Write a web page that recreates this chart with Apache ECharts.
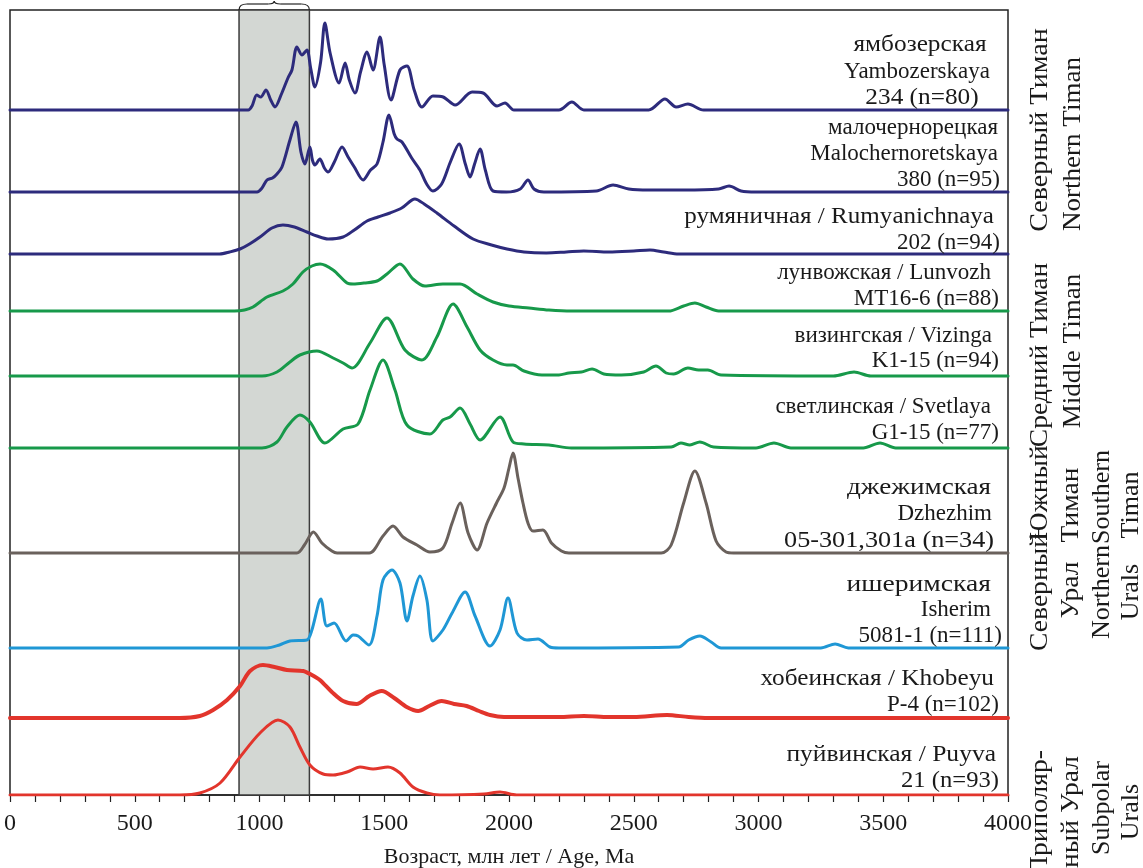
<!DOCTYPE html>
<html><head><meta charset="utf-8">
<script src="https://cdn.jsdelivr.net/npm/echarts/dist/echarts.min.js"></script>
<style>html,body{margin:0;padding:0;background:#fff}#c{width:1143px;height:868px}</style>
</head><body><div id="c"></div>
<script>
// ---------------- DATA ----------------
const ageTicks = [0, 500, 1000, 1500, 2000, 2500, 3000, 3500, 4000];
const axisTitle = 'Возраст, млн лет / Age, Ma';
const bandRange = [918, 1200];

// [age Ma, relative probability height]
const yambozerskaya = [[0,0],[955,0],[970,4],[989,15],[1005,13],[1026,20],[1045,10],[1062,3],[1088,16],[1114,32],[1130,40],[1150,63],[1170,55],[1190,60],[1205,42],[1222,23],[1245,48],[1262,87],[1283,57],[1319,27],[1343,47],[1360,30],[1383,17],[1405,38],[1431,58],[1455,40],[1483,73],[1500,45],[1527,10],[1563,40],[1591,44],[1620,20],[1651,3],[1695,14],[1736,13],[1784,5],[1852,18],[1896,17],[1952,4],[1984,7],[2020,0],[2200,0],[2252,8],[2300,0],[2560,0],[2625,11],[2670,3],[2717,6],[2780,0],[4000,0]];
const malochernoretskaya = [[0,0],[990,0],[1010,4],[1030,12],[1052,14],[1070,18],[1090,25],[1122,52],[1146,70],[1166,40],[1182,28],[1202,45],[1212,32],[1222,27],[1242,33],[1260,24],[1275,20],[1300,30],[1331,45],[1355,35],[1380,25],[1415,12],[1445,22],[1471,28],[1495,50],[1519,77],[1540,58],[1551,53],[1571,50],[1610,34],[1643,22],[1670,8],[1695,1],[1730,8],[1765,30],[1800,48],[1825,28],[1844,15],[1862,28],[1884,43],[1905,22],[1936,1],[1990,0],[2045,3],[2076,12],[2100,3],[2140,0],[2350,1],[2417,7],[2480,3],[2560,2],[2700,2],[2840,3],[2882,6],[2930,1],[2990,0],[4000,0]];
const rumyanichnaya = [[0,0],[840,0],[880,2],[922,5],[960,10],[1002,17],[1050,26],[1094,29],[1140,27],[1190,22],[1230,18],[1275,15],[1335,17],[1380,24],[1431,33],[1475,37],[1523,41],[1570,46],[1623,55],[1660,50],[1711,41],[1780,28],[1856,15],[1930,9],[1992,5],[2060,2],[2150,1],[2230,2],[2300,3],[2400,2],[2500,3],[2565,4],[2620,2],[2680,0],[4000,0]];
const lunvozh = [[0,0],[900,0],[940,1],[974,4],[1030,14],[1094,20],[1134,27],[1174,39],[1210,45],[1243,47],[1295,41],[1351,28],[1375,27],[1420,28],[1471,30],[1511,37],[1563,47],[1615,32],[1663,25],[1735,27],[1804,27],[1872,17],[1936,9],[2000,5],[2080,3],[2160,1],[2250,0],[2640,0],[2700,5],[2745,8],[2790,4],[2840,0],[4000,0]];
const vizinga = [[0,0],[1010,0],[1070,4],[1122,14],[1162,21],[1230,25],[1295,18],[1335,13],[1371,8],[1443,33],[1511,58],[1583,26],[1651,16],[1711,39],[1776,72],[1832,49],[1884,26],[1936,16],[1992,11],[2016,11],[2060,5],[2132,1],[2200,1],[2240,3],[2290,4],[2333,7],[2380,2],[2450,1],[2540,4],[2589,10],[2630,3],[2660,2],[2717,8],[2760,6],[2797,6],[2850,1],[3300,0],[3383,4],[3450,0],[4000,0]];
const svetlaya = [[0,0],[1010,0],[1070,6],[1110,21],[1162,33],[1202,26],[1262,5],[1335,19],[1395,24],[1443,58],[1495,88],[1543,58],[1591,23],[1683,14],[1735,28],[1764,31],[1804,40],[1844,24],[1884,8],[1964,31],[2016,6],[2060,4],[2160,3],[2250,0],[2650,1],[2689,5],[2725,3],[2765,6],[2820,1],[2990,0],[3062,5],[3130,0],[3420,0],[3487,5],[3550,0],[4000,0]];
const dzhezhim = [[0,0],[1150,0],[1180,8],[1216,21],[1250,10],[1290,2],[1311,0],[1440,0],[1495,17],[1535,27],[1575,16],[1631,8],[1683,1],[1735,5],[1772,30],[1804,50],[1836,20],[1872,3],[1912,30],[1950,50],[1980,65],[2000,85],[2016,100],[2036,75],[2056,50],[2076,30],[2096,22],[2136,23],[2170,10],[2210,2],[2240,0],[2610,0],[2650,8],[2700,50],[2745,82],[2790,50],[2830,12],[2870,1],[2900,0],[4000,0]];
const isherim = [[0,0],[1030,0],[1080,3],[1122,7],[1190,8],[1210,18],[1246,49],[1270,22],[1299,25],[1347,7],[1375,13],[1395,12],[1439,3],[1471,32],[1495,68],[1531,78],[1563,65],[1591,27],[1615,52],[1643,72],[1671,48],[1695,7],[1735,18],[1772,35],[1824,56],[1864,32],[1924,2],[1964,18],[1996,50],[2032,15],[2072,8],[2116,9],[2164,1],[2200,0],[2680,1],[2720,8],[2765,12],[2810,6],[2850,0],[3250,0],[3307,4],[3360,0],[4000,0]];
const khobeyu = [[0,0],[680,0],[761,2],[814,8],[870,18],[922,32],[962,47],[1014,53],[1060,51],[1110,48],[1175,47],[1210,43],[1242,38],[1290,26],[1335,17],[1389,14],[1440,22],[1490,27],[1540,20],[1590,11],[1636,7],[1680,12],[1730,17],[1780,14],[1830,12],[1880,7],[1924,3],[1980,1],[2100,1],[2200,1],[2300,2],[2400,1],[2500,1],[2633,3],[2720,1],[2800,0],[4000,0]];
const puyva = [[0,0],[681,0],[761,2],[842,12],[922,38],[1002,62],[1074,75],[1122,68],[1162,48],[1202,30],[1255,21],[1295,20],[1351,23],[1403,28],[1455,26],[1515,28],[1563,22],[1615,8],[1671,2],[1723,0],[1900,1],[1964,3],[2030,0],[4000,0]];

const seriesData = [yambozerskaya, malochernoretskaya, rumyanichnaya, lunvozh, vizinga, svetlaya, dzhezhim, isherim, khobeyu, puyva];

const seriesLabels = [
  ['ямбозерская', 'Yambozerskaya', '234 (n=80)'],
  ['малочернорецкая', 'Malochernoretskaya', '380 (n=95)'],
  ['румяничная / Rumyanichnaya', '202 (n=94)'],
  ['лунвожская / Lunvozh', 'MT16-6 (n=88)'],
  ['визингская / Vizinga', 'K1-15 (n=94)'],
  ['светлинская / Svetlaya', 'G1-15 (n=77)'],
  ['джежимская', 'Dzhezhim', '05-301,301a (n=34)'],
  ['ишеримская', 'Isherim', '5081-1 (n=111)'],
  ['хобеинская / Khobeyu', 'P-4 (n=102)'],
  ['пуйвинская / Puyva', '21 (n=93)']
];

const regionLabels = [
  ['Северный Тиман', 'Northern Timan'],
  ['Средний Тиман', 'Middle Timan'],
  ['Южный', 'Тиман', 'Southern', 'Timan'],
  ['Северный', 'Урал', 'Northern', 'Urals'],
  ['Приполяр-', 'ный Урал', 'Subpolar', 'Urals']
];

// ---------------- LAYOUT / STYLE ----------------
const NAVY = '#2d2b7c', GREEN = '#17994a', GREY = '#6a615c', BLUE = '#1f97d5', RED = '#e2352c';
const colors = [NAVY, NAVY, NAVY, GREEN, GREEN, GREEN, GREY, BLUE, RED, RED];
const widths = [3, 3, 3, 3, 3, 3, 3, 3, 4, 3];
const baselines = [685, 603, 541, 484, 419, 347, 242, 147, 77, 0]; // y-offset of each ridge
const Y_MAX = 785;
const FONT = "'Liberation Serif', 'Times New Roman', serif";
const TXT = '#1a1a1a';

const labelLayout = [
  {align: 'center', xs: [920, 917, 922], ys: [45, 72, 98], sx: [1.1, 1, 1.1]},
  {align: 'right', xs: [998, 998, 1000], ys: [128, 154, 180], sx: [1, 1, 1]},
  {align: 'right', xs: [994, 1000], ys: [217, 243], sx: [1.09, 1]},
  {align: 'right', xs: [991, 999], ys: [273, 299], sx: [1, 1]},
  {align: 'right', xs: [992, 999], ys: [336, 361], sx: [1, 1]},
  {align: 'right', xs: [991, 999], ys: [407, 433], sx: [1, 1]},
  {align: 'right', xs: [991, 992, 994], ys: [488, 514, 541], sx: [1.18, 1, 1.14]},
  {align: 'right', xs: [991, 991, 1002], ys: [585, 610, 636], sx: [1.2, 1, 1]},
  {align: 'right', xs: [994, 999], ys: [679, 705], sx: [1.1, 1]},
  {align: 'right', xs: [996, 999], ys: [755, 781], sx: [1.11, 1.07]}
];
const regionLayout = [
  {xs: [1040, 1073], ys: [130, 144], sx: [1.08, 1.04]},
  {xs: [1040, 1073], ys: [355, 351], sx: [1.06, 1.04]},
  {xs: [1040, 1071, 1102, 1131], ys: [493, 505, 497, 505], sx: [1.06, 1.06, 1, 1]},
  {xs: [1040, 1071, 1102, 1131], ys: [592, 590, 592, 592], sx: [1.06, 1.06, 1, 1]},
  {xs: [1040, 1071, 1102, 1131], ys: [813, 812, 808, 812], sx: [1.06, 1.06, 1, 1]}
];

const chart = echarts.init(document.getElementById('c'), null, {renderer: 'canvas'});

const series = seriesData.map((arr, i) => ({
  type: 'line',
  data: arr.map(([a, h]) => [a, h + baselines[i]]),
  showSymbol: false,
  smooth: 0.3,
  lineStyle: {color: colors[i], width: widths[i], cap: 'round', join: 'round'},
  itemStyle: {color: colors[i]},
  z: 5,
  silent: true
}));

series.unshift({
  type: 'line', data: [], z: 1, silent: true,
  markArea: {
    silent: true,
    itemStyle: {color: '#d3d7d3', borderColor: '#3c3c3c', borderWidth: 1.5},
    data: [[{xAxis: bandRange[0]}, {xAxis: bandRange[1]}]]
  }
});

chart.setOption({
  animation: false,
  backgroundColor: '#fff',
  grid: {left: 10, right: 135, top: 10, bottom: 73, containLabel: false, outerBoundsMode: 'none',
    show: true, borderColor: '#222', borderWidth: 1.5, backgroundColor: 'transparent'},
  xAxis: {
    type: 'value', min: ageTicks[0], max: ageTicks[ageTicks.length - 1], interval: 500,
    axisLine: {show: true, lineStyle: {color: '#222', width: 1.5}},
    axisTick: {show: true, length: 7, lineStyle: {color: '#222', width: 1.2}},
    minorTick: {show: true, splitNumber: 5, length: 7, lineStyle: {color: '#222', width: 1.2}},
    splitLine: {show: false},
    axisLabel: {fontSize: 24, fontFamily: FONT, color: TXT, margin: 17,
      formatter: v => ageTicks.includes(v) ? String(v) : ''},
    name: axisTitle, nameLocation: 'middle', nameGap: 51,
    nameTextStyle: {fontSize: 22, fontFamily: FONT, color: TXT}
  },
  yAxis: {
    type: 'value', min: 0, max: Y_MAX, show: false, splitLine: {show: false}
  },
  series: series
});

// graphics: texts and brace
const g = [];
seriesLabels.forEach((lines, i) => {
  const L = labelLayout[i];
  lines.forEach((t, j) => {
    g.push({type: 'text', x: L.xs[j], y: L.ys[j], scaleX: L.sx[j], silent: true, z: 10,
      style: {text: t, fontSize: 23, fontFamily: FONT, fill: TXT, align: L.align, verticalAlign: 'middle'}});
  });
});
regionLabels.forEach((lines, i) => {
  const L = regionLayout[i];
  lines.forEach((t, j) => {
    g.push({type: 'text', x: L.xs[j], y: L.ys[j], rotation: Math.PI / 2, scaleX: L.sx[j], silent: true, z: 10,
      style: {text: t, fontSize: 26, fontFamily: FONT, fill: TXT, align: 'center', verticalAlign: 'middle'}});
  });
});
const p1 = chart.convertToPixel({gridIndex: 0}, [bandRange[0], Y_MAX]);
const p2 = chart.convertToPixel({gridIndex: 0}, [bandRange[1], Y_MAX]);
const x1 = p1[0], x2 = p2[0], yt = p1[1], xm = (x1 + x2) / 2;
const bs = {stroke: '#222', lineWidth: 1.2, fill: null};
g.push({type: 'bezierCurve', silent: true, z: 10, shape: {x1: x1, y1: yt, x2: x1 + 8, y2: yt - 6, cpx1: x1, cpy1: yt - 6}, style: bs});
g.push({type: 'line', silent: true, z: 10, shape: {x1: x1 + 8, y1: yt - 6, x2: xm - 6, y2: yt - 6}, style: bs});
g.push({type: 'bezierCurve', silent: true, z: 10, shape: {x1: xm - 6, y1: yt - 6, x2: xm, y2: yt - 9, cpx1: xm, cpy1: yt - 6}, style: bs});
g.push({type: 'bezierCurve', silent: true, z: 10, shape: {x1: xm, y1: yt - 9, x2: xm + 6, y2: yt - 6, cpx1: xm, cpy1: yt - 6}, style: bs});
g.push({type: 'line', silent: true, z: 10, shape: {x1: xm + 6, y1: yt - 6, x2: x2 - 8, y2: yt - 6}, style: bs});
g.push({type: 'bezierCurve', silent: true, z: 10, shape: {x1: x2 - 8, y1: yt - 6, x2: x2, y2: yt, cpx1: x2, cpy1: yt - 6}, style: bs});
chart.setOption({graphic: g});
</script></body></html>
